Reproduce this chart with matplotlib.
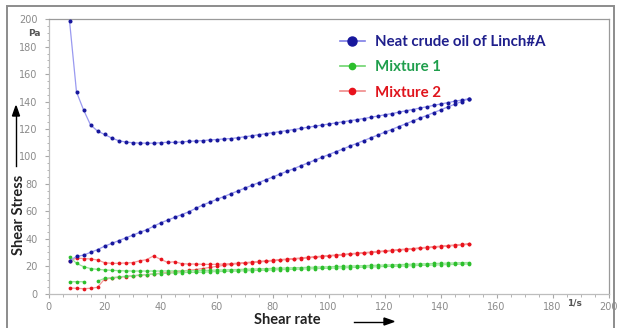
import numpy as np
import matplotlib.pyplot as plt
from matplotlib.lines import Line2D
from matplotlib.patches import Rectangle
from matplotlib.ticker import MultipleLocator

# shear rate steps (1/s), same for ramp up and ramp down
shear_rate = [7.5, 10, 12.5, 15, 17.5, 20, 22.5, 25, 27.5, 30,
              32.5, 35, 37.5, 40, 42.5, 45, 47.5, 50, 52.5, 55,
              57.5, 60, 62.5, 65, 67.5, 70, 72.5, 75, 77.5, 80,
              82.5, 85, 87.5, 90, 92.5, 95, 97.5, 100, 102.5, 105,
              107.5, 110, 112.5, 115, 117.5, 120, 122.5, 125, 127.5, 130,
              132.5, 135, 137.5, 140, 142.5, 145, 147.5, 150]

# shear stress (Pa)
neat_up = [199, 147, 134, 123, 118.5, 116, 113.5, 111.5, 110.5, 110,
           109.7, 109.7, 109.6, 110, 110.3, 110.2, 110.5, 111, 111.2, 111.5,
           112, 112.3, 112.7, 113, 113.6, 114.3, 115, 115.8, 116.5, 117.3,
           118, 118.8, 119.6, 120.4, 121.2, 122, 122.8, 123.6, 124.4, 125.2,
           126, 126.8, 127.6, 128.5, 129.4, 130.3, 131.2, 132.2, 133.2, 134.2,
           135.2, 136.2, 137.2, 138.2, 139.2, 140.2, 141.1, 142]
neat_down = [24, 27, 28, 30, 32, 34.5, 36.5, 38.5, 40.5, 42.5,
             44.5, 46.5, 49, 51.5, 53.5, 55.5, 57.5, 59.5, 62, 64.5,
             66.5, 68.6, 70.6, 72.7, 74.7, 76.8, 78.8, 80.8, 82.9, 84.9,
             87, 89, 91, 93.1, 95.1, 97.2, 99.2, 101.3, 103.3, 105.3,
             107.4, 109.4, 111.5, 113.5, 115.5, 117.6, 119.6, 121.7, 123.7, 125.8,
             127.8, 129.8, 131.9, 133.9, 136, 138, 140, 142]

mix1_up = [26.9, 22, 19.6, 18.2, 17.6, 17.2, 16.9, 16.7, 16.5, 16.4,
           16.4, 16.4, 16.4, 16.4, 16.5, 16.5, 16.6, 16.6, 16.7, 16.8,
           16.9, 17.1, 17.2, 17.4, 17.5, 17.7, 17.8, 18.0, 18.1, 18.3,
           18.5, 18.6, 18.8, 18.9, 19.1, 19.2, 19.4, 19.5, 19.7, 19.8,
           20.0, 20.2, 20.3, 20.5, 20.6, 20.8, 20.9, 21.1, 21.2, 21.4,
           21.6, 21.7, 21.9, 22.0, 22.2, 22.3, 22.5, 22.6]
mix1_down = [8.6, 8.6, 8.6, np.nan, 9.0, 11.0, 11.6, 12.1, 12.6, 13.0,
             13.4, 13.8, 14.2, 14.5, 14.8, 15.0, 15.2, 15.4, 15.5, 15.6,
             15.8, 16.0, 16.1, 16.3, 16.4, 16.6, 16.7, 16.9, 17.0, 17.2,
             17.4, 17.5, 17.7, 17.8, 18.0, 18.1, 18.3, 18.4, 18.6, 18.7,
             18.9, 19.1, 19.2, 19.4, 19.5, 19.7, 19.8, 20.0, 20.1, 20.3,
             20.5, 20.6, 20.8, 20.9, 21.1, 21.2, 21.4, 21.5]

mix2_up = [23.7, 25.8, 25.5, 25.2, 24.5, 22.5, 22.0, 22.0, 22.3, 22.5,
           23.8, 24.7, 27.4, 25.0, 22.7, 23.2, 21.8, 21.5, 21.5, 21.3,
           21.2, 21.3, 21.5, 21.8, 22.1, 22.5, 22.9, 23.4, 23.8, 24.2,
           24.7, 25.1, 25.5, 25.9, 26.4, 26.8, 27.2, 27.7, 28.1, 28.5,
           29.0, 29.4, 29.8, 30.2, 30.7, 31.1, 31.5, 32.0, 32.4, 32.8,
           33.3, 33.7, 34.1, 34.5, 35.0, 35.4, 35.8, 36.3]
mix2_down = [4.0, 3.8, 3.5, 3.8, 4.5, 10.5, 11.2, 11.8, 12.3, 12.8,
             13.3, 13.8, 14.3, 14.8, 15.3, 15.8, 16.3, 16.9, 17.5, 18.2,
             19.0, 19.8, 20.5, 21.2, 21.7, 22.1, 22.5, 23.0, 23.4, 23.8,
             24.3, 24.7, 25.1, 25.5, 26.0, 26.4, 26.8, 27.3, 27.7, 28.1,
             28.6, 29.0, 29.4, 29.8, 30.3, 30.7, 31.1, 31.6, 32.0, 32.4,
             32.9, 33.3, 33.7, 34.1, 34.6, 35.0, 35.4, 35.9]

labels = ["Neat crude oil of Linch#A", "Mixture 1", "Mixture 2"]
x_ticks = [0, 20, 40, 60, 80, 100, 120, 140, 160, 180, 200]
y_ticks = [0, 20, 40, 60, 80, 100, 120, 140, 160, 180, 200]

W, H = 619, 328
fig = plt.figure(figsize=(W / 100, H / 100), dpi=100)
ax = fig.add_axes([48.5 / W, 1 - 293.5 / H, 560 / W, 274.2 / H])

loop_x = shear_rate + shear_rate[::-1]
series = [
    (mix2_up, mix2_down, "#e8121c", "#f39a9a", 2.7, 1),
    (mix1_up, mix1_down, "#2cbf2c", "#9be39b", 2.7, 2),
    (neat_up, neat_down, "#17179c", "#9a9af0", 2.9, 3),
]
for up, down, mc, lc, ms, z in series:
    ax.plot(loop_x, up + down[::-1], color=lc, lw=0.9, zorder=z,
            marker="o", ms=ms, mfc=mc, mec=mc, mew=0)

ax.set_xlim(0, 200)
ax.set_ylim(0, 200)
ax.set_xticks(x_ticks)
ax.set_yticks(y_ticks)
ax.xaxis.set_minor_locator(MultipleLocator(5))
ax.yaxis.set_minor_locator(MultipleLocator(5))
ax.tick_params(which="both", colors="#a8a8a8", labelcolor="#8a8a8a",
               labelsize=7, direction="out")
ax.tick_params(which="major", length=3, width=0.8)
ax.tick_params(which="minor", length=1.8, width=0.6)
ax.tick_params(axis="x", pad=3)
ax.tick_params(axis="y", pad=5)
for s in ["left", "bottom"]:
    ax.spines[s].set_color("#bdbdbd")
    ax.spines[s].set_linewidth(0.9)
for s in ["top", "right"]:
    ax.spines[s].set_color("#9a9a9a")
    ax.spines[s].set_linewidth(0.9)

# units
ax.text(188, -3.5, "1/s", ha="center", va="top", fontsize=6.5,
        fontweight="bold", color="#555555")
ax.text(-2.8, 190, "Pa", ha="right", va="center", fontsize=6.5,
        fontweight="bold", color="#555555")

# legend
handles = [
    Line2D([], [], color="#7e7ee6", lw=1.2, marker="o", ms=6.5,
           mfc="#17179c", mec="#17179c"),
    Line2D([], [], color="#6fd46f", lw=1.2, marker="o", ms=4.5,
           mfc="#2cbf2c", mec="#2cbf2c"),
    Line2D([], [], color="#f08a8a", lw=1.2, marker="o", ms=4.5,
           mfc="#e8121c", mec="#e8121c"),
]
leg = ax.legend(handles, labels, loc="upper left",
                bbox_to_anchor=(0.52, 0.943), frameon=False,
                borderpad=0, borderaxespad=0, handlelength=1.7,
                handletextpad=0.65, labelspacing=0.76,
                prop={"family": "Lato", "weight": "bold", "size": 10.8},
                labelcolor=["#1f1f8c", "#1f9e4c", "#e0141c"])

# axis titles with arrows
fig.text(19 / W, 1 - 215 / H, "Shear Stress", rotation=90, ha="center",
         va="center", fontsize=10.5, fontweight="bold", family="Lato",
         color="#222222")
fig.text(287 / W, 1 - 320 / H, "Shear rate", ha="center", va="center",
         fontsize=10.5, fontweight="bold", family="Lato", color="#222222")
fig.add_artist(plt.Line2D([16 / W, 16 / W], [1 - 166 / H, 1 - 114 / H],
                          color="black", lw=1))
fig.patches.append(plt.Polygon([[12.5 / W, 1 - 116 / H], [19.5 / W, 1 - 116 / H],
                                [16 / W, 1 - 106 / H]], closed=True,
                               color="black", transform=fig.transFigure))
fig.add_artist(plt.Line2D([354 / W, 386 / W], [1 - 321.5 / H, 1 - 321.5 / H],
                          color="black", lw=1))
fig.patches.append(plt.Polygon([[384 / W, 1 - 318 / H], [384 / W, 1 - 325 / H],
                                [394 / W, 1 - 321.5 / H]], closed=True,
                               color="black", transform=fig.transFigure))

# outer frame
fig.patches.append(Rectangle((7 / W, -0.05), 607 / W, 1.05 - 6 / H,
                             transform=fig.transFigure, fill=False,
                             edgecolor="#8c8c8c", lw=1.4))

fig.savefig("out.png", dpi=100)
